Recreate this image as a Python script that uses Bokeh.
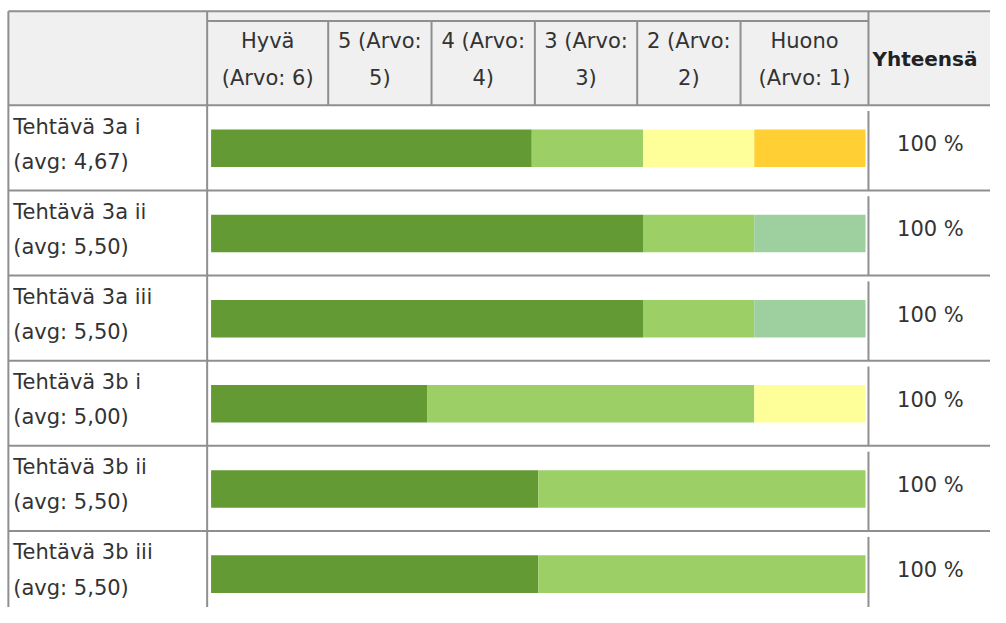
from bokeh.plotting import figure
from bokeh.models import Range1d
from bokeh.embed import file_html
from bokeh.resources import INLINE
from bokeh.core.properties import value

# ---------------- data ----------------
row_titles = ["Tehtävä 3a i", "Tehtävä 3a ii", "Tehtävä 3a iii",
              "Tehtävä 3b i", "Tehtävä 3b ii", "Tehtävä 3b iii"]
row_avgs = ["(avg: 4,67)", "(avg: 5,50)", "(avg: 5,50)",
            "(avg: 5,00)", "(avg: 5,50)", "(avg: 5,50)"]
col_line1 = ["Hyvä", "5 (Arvo:", "4 (Arvo:", "3 (Arvo:", "2 (Arvo:", "Huono"]
col_line2 = ["(Arvo: 6)", "5)", "4)", "3)", "2)", "(Arvo: 1)"]
total_header = "Yhteensä"
totals = ["100 %", "100 %", "100 %", "100 %", "100 %", "100 %"]

# share of answers (percent of bar) per value 6 .. 1
share_6 = [49, 66, 66, 33, 50, 50]
share_5 = [17, 17, 17, 50, 50, 50]
share_4 = [0, 17, 17, 0, 0, 0]
share_3 = [17, 0, 0, 17, 0, 0]
share_2 = [17, 0, 0, 0, 0, 0]
share_1 = [0, 0, 0, 0, 0, 0]
series = [share_6, share_5, share_4, share_3, share_2, share_1]
colors = ["#639a33", "#9ccf66", "#9ecf9e", "#ffff99", "#ffcf33", "#ff6633"]

# ---------------- layout ----------------
W, H = 990, 607
p = figure(width=W, height=H, output_backend="svg", toolbar_location=None,
           x_range=Range1d(0, 1006), y_range=Range1d(623, 0),
           min_border=0, min_border_left=0, min_border_right=0,
           min_border_top=0, min_border_bottom=0)
p.axis.visible = False
p.grid.visible = False
p.outline_line_color = None
p.background_fill_color = "white"
p.border_fill_color = "white"

FONT = value("DejaVu Sans")
FS = value("21px")
TXT = "#333333"
LINE = "#8f8f8f"
HEAD_BG = "#f0f0f0"

table_left = 8
table_right = 1030
top = 11
sub_top = 21
head_bottom = 107.5
row_h = 87.4
label_right = 210
col_edges = [210, 333, 438, 543, 647, 752, 882]
total_left = 882
bar_x0, bar_x1 = 214, 879
bar_off, bar_h = 25, 38.5

n = len(row_titles)
row_tops = [head_bottom + i * row_h for i in range(n)]

# header background
p.quad(left=[table_left], right=[table_right], top=[top], bottom=[head_bottom],
       fill_color=HEAD_BG, line_color=None)

# bars
scale = (bar_x1 - bar_x0) / 100.0
cum = [0.0] * n
for vals, c in zip(series, colors):
    L, R, T, B = [], [], [], []
    for i, v in enumerate(vals):
        if v > 0:
            L.append(bar_x0 + cum[i] * scale)
            R.append(bar_x0 + (cum[i] + v) * scale)
            T.append(row_tops[i] + bar_off)
            B.append(row_tops[i] + bar_off + bar_h)
        cum[i] += v
    if L:
        p.quad(left=L, right=R, top=T, bottom=B, fill_color=c, line_color=None)

# lines
x0s, y0s, x1s, y1s = [], [], [], []
def seg(a, b, c, d):
    x0s.append(a); y0s.append(b); x1s.append(c); y1s.append(d)

seg(table_left, top, table_right, top)
seg(label_right, sub_top, total_left, sub_top)
seg(table_left, head_bottom, table_right, head_bottom)
seg(table_left, top, table_left, 700)
seg(label_right, top, label_right, 700)
for x in col_edges[1:-1]:
    seg(x, sub_top, x, head_bottom)
seg(total_left, top, total_left, head_bottom)
for i, rt in enumerate(row_tops):
    seg(table_left, rt + row_h, table_right, rt + row_h)
    seg(total_left, rt + 6, total_left, rt + row_h)
p.segment(x0=x0s, y0=y0s, x1=x1s, y1=y1s, line_color=LINE, line_width=2)

# header texts
cx = [(col_edges[i] + col_edges[i + 1]) / 2 for i in range(len(col_line1))]
p.text(x=cx, y=[42] * len(cx), text=col_line1, text_align="center",
       text_baseline="middle", text_font=FONT, text_font_size=FS, text_color=TXT)
p.text(x=cx, y=[80] * len(cx), text=col_line2, text_align="center",
       text_baseline="middle", text_font=FONT, text_font_size=FS, text_color=TXT)
p.text(x=[886], y=[60], text=[total_header], text_align="left",
       text_baseline="middle", text_font=FONT, text_font_size=value("20px"),
       text_font_style="bold", text_color="#222222")

# row texts
p.text(x=[13] * n, y=[rt + 22 for rt in row_tops], text=row_titles,
       text_align="left", text_baseline="middle", text_font=FONT,
       text_font_size=FS, text_color=TXT)
p.text(x=[13] * n, y=[rt + 58 for rt in row_tops], text=row_avgs,
       text_align="left", text_baseline="middle", text_font=FONT,
       text_font_size=FS, text_color=TXT)
p.text(x=[945] * n, y=[rt + 40 for rt in row_tops], text=totals,
       text_align="center", text_baseline="middle", text_font=FONT,
       text_font_size=FS, text_color=TXT)

open("out.html", "w").write(file_html(p, INLINE))
